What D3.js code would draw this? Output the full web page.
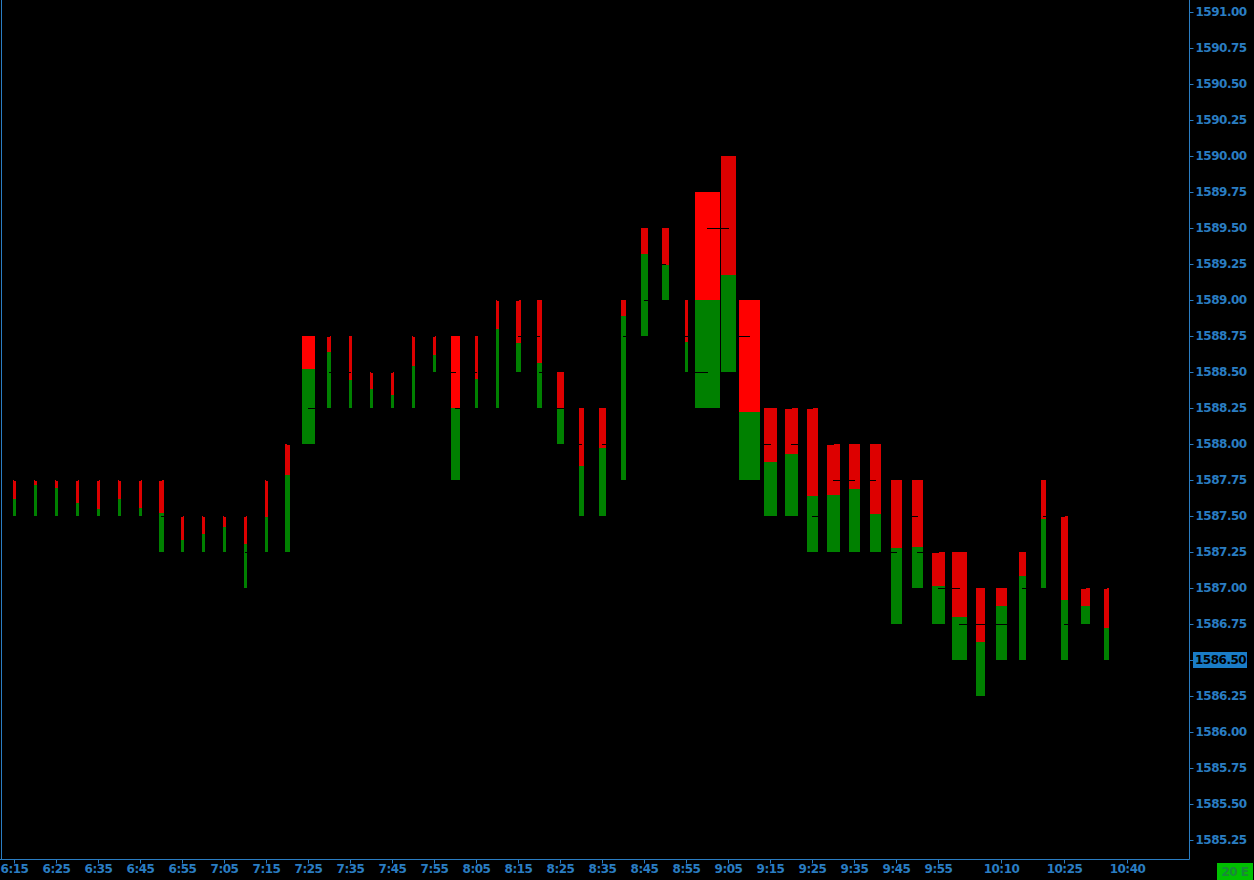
<!DOCTYPE html>
<html><head><meta charset="utf-8">
<script src="https://cdn.jsdelivr.net/npm/d3@7/dist/d3.min.js"></script>
<style>
html,body{margin:0;padding:0;background:#000;}
svg{display:block;}
</style></head>
<body>
<svg id="chart" width="1254" height="880"></svg>
<script>
// ---- data (5-minute bars) ----
const times = ["6:15","6:20","6:25","6:30","6:35","6:40","6:45","6:50","6:55","7:00","7:05","7:10","7:15","7:20","7:25","7:30","7:35","7:40","7:45","7:50","7:55","8:00","8:05","8:10","8:15","8:20","8:25","8:30","8:35","8:40","8:45","8:50","8:55","9:00","9:05","9:10","9:15","9:20","9:25","9:30","9:35","9:40","9:45","9:50","9:55","10:00","10:05","10:10","10:15","10:20","10:25","10:30","10:35"];
const highs = [1587.75,1587.75,1587.75,1587.75,1587.75,1587.75,1587.75,1587.75,1587.50,1587.50,1587.50,1587.50,1587.75,1588.00,1588.75,1588.75,1588.75,1588.50,1588.50,1588.75,1588.75,1588.75,1588.75,1589.00,1589.00,1589.00,1588.50,1588.25,1588.25,1589.00,1589.50,1589.50,1589.00,1589.75,1590.00,1589.00,1588.25,1588.25,1588.25,1588.00,1588.00,1588.00,1587.75,1587.75,1587.25,1587.25,1587.00,1587.00,1587.25,1587.75,1587.50,1587.00,1587.00];
const lows = [1587.50,1587.50,1587.50,1587.50,1587.50,1587.50,1587.50,1587.25,1587.25,1587.25,1587.25,1587.00,1587.25,1587.25,1588.00,1588.25,1588.25,1588.25,1588.25,1588.25,1588.50,1587.75,1588.25,1588.25,1588.50,1588.25,1588.00,1587.50,1587.50,1587.75,1588.75,1589.00,1588.50,1588.25,1588.50,1587.75,1587.50,1587.50,1587.25,1587.25,1587.25,1587.25,1586.75,1587.00,1586.75,1586.50,1586.25,1586.50,1586.50,1587.00,1586.50,1586.75,1586.50];
const opens = [1587.50,1587.50,1587.50,1587.75,1587.75,1587.50,1587.75,1587.75,1587.50,1587.25,1587.25,1587.50,1587.25,1587.25,1588.00,1588.75,1588.50,1588.25,1588.50,1588.25,1588.75,1588.50,1588.50,1588.25,1589.00,1588.75,1588.25,1588.00,1587.50,1587.75,1588.75,1589.25,1588.75,1588.50,1589.50,1588.75,1588.00,1588.25,1588.25,1588.00,1587.75,1587.75,1587.25,1587.50,1587.25,1587.00,1586.75,1586.75,1586.50,1587.00,1587.50,1587.00,1587.00];
const closes = [1587.75,1587.75,1587.75,1587.50,1587.50,1587.75,1587.50,1587.50,1587.25,1587.50,1587.50,1587.25,1587.75,1588.00,1588.25,1588.50,1588.25,1588.50,1588.25,1588.75,1588.50,1588.25,1588.25,1589.00,1588.75,1588.50,1588.25,1587.50,1588.00,1588.75,1589.00,1589.00,1588.75,1589.50,1588.50,1587.75,1587.50,1588.00,1587.50,1587.75,1587.25,1587.25,1586.75,1587.25,1587.00,1586.75,1586.75,1586.75,1587.00,1587.50,1586.75,1586.75,1586.50];
// share of the bar's range traded at the ask side (red, top) vs bid side (green, bottom)
const sellShare = [0.53,0.14,0.22,0.64,0.80,0.53,0.78,0.46,0.67,0.50,0.30,0.39,0.51,0.29,0.31,0.22,0.61,0.47,0.64,0.42,0.53,0.50,0.60,0.27,0.60,0.58,0.51,0.54,0.37,0.09,0.24,0.51,0.58,0.50,0.55,0.62,0.50,0.43,0.61,0.47,0.42,0.65,0.47,0.62,0.47,0.60,0.50,0.25,0.22,0.36,0.58,0.50,0.56];
const volumes = [330,330,330,330,330,330,330,530,330,330,330,330,330,500,1300,370,300,330,300,300,300,900,300,300,500,500,700,500,700,500,700,700,300,2500,1500,2100,1300,1300,1100,1300,1100,1100,1100,1100,1300,1500,900,1100,700,500,700,900,500];
const strongBars = ["7:25","8:00","9:00","9:10"];
const yTicks = [1585.25,1585.50,1585.75,1586.00,1586.25,1586.50,1586.75,1587.00,1587.25,1587.50,1587.75,1588.00,1588.25,1588.50,1588.75,1589.00,1589.25,1589.50,1589.75,1590.00,1590.25,1590.50,1590.75,1591.00];
const xTickLabels = ["6:15","6:25","6:35","6:45","6:55","7:05","7:15","7:25","7:35","7:45","7:55","8:05","8:15","8:25","8:35","8:45","8:55","9:05","9:15","9:25","9:35","9:45","9:55","10:10","10:25","10:40"];
const lastPrice = 1586.50;
const periodLabel = "20 E";

// ---- drawing ----
const W = 1254, H = 880;
const plotRight = 1189, plotBottom = 859;
const axisColor = "#2a7dc2";
const font = "'DejaVu Sans', Verdana, sans-serif";
const fontCss = `bold 12px ${font}`;

const parseT = d3.timeParse("%H:%M");
const data = times.map((t, i) => ({
  t, date: parseT(t), high: highs[i], low: lows[i], open: opens[i], close: closes[i],
  share: sellShare[i], vol: volumes[i], strong: strongBars.includes(t)
}));

const x = d3.scaleTime().domain([parseT("6:15"), parseT("10:40")]).range([14, 1127]);
const y = d3.scaleLinear().domain([1585.25, 1591.00]).range([840, 12]);
const wScale = d3.scaleLinear().domain([0, 2500]).range([0, 25]);

const svg = d3.select("#chart");
svg.append("rect").attr("width", W).attr("height", H).attr("fill", "#000");

const g = svg.append("g").attr("shape-rendering", "crispEdges");

const bars = g.selectAll("g.bar").data(data).enter().append("g").attr("class", "bar");
bars.each(function(d) {
  const el = d3.select(this);
  const cx = Math.round(x(d.date));
  const w = Math.max(3, Math.round(wScale(d.vol)));
  const x0 = cx - Math.floor(w / 2);
  const yTop = y(d.high), yBot = y(d.low);
  const ySplit = yTop + (yBot - yTop) * d.share;
  el.append("rect").attr("x", x0).attr("y", yTop).attr("width", w).attr("height", ySplit - yTop)
    .attr("fill", d.strong ? "#ff0000" : "#dd0000");
  el.append("rect").attr("x", x0).attr("y", ySplit).attr("width", w).attr("height", yBot - ySplit)
    .attr("fill", "#008000");
  // open (left) / close (right) ticks
  el.append("line").attr("x1", x0 - 1).attr("x2", cx + 0.5)
    .attr("y1", Math.round(y(d.open)) + 0.5).attr("y2", Math.round(y(d.open)) + 0.5)
    .attr("stroke", "#000").attr("stroke-width", 1);
  el.append("line").attr("x1", cx).attr("x2", x0 + w + 1)
    .attr("y1", Math.round(y(d.close)) + 0.5).attr("y2", Math.round(y(d.close)) + 0.5)
    .attr("stroke", "#000").attr("stroke-width", 1);
});

// frame lines
svg.append("line").attr("x1", 1.5).attr("x2", 1.5).attr("y1", 0).attr("y2", plotBottom)
  .attr("stroke", axisColor).attr("stroke-width", 1);

// right price axis
const yAxis = d3.axisRight(y).tickValues(yTicks).tickFormat(d3.format(".2f")).tickSizeInner(4).tickSizeOuter(0).tickPadding(2);
const ya = svg.append("g").attr("transform", `translate(${plotRight + 0.5},0)`).call(yAxis);
ya.select(".domain").remove();
ya.append("line").attr("x1", 0).attr("x2", 0).attr("y1", 0).attr("y2", plotBottom + 0.5).attr("stroke", axisColor);
ya.selectAll(".tick line").attr("stroke", axisColor);
ya.selectAll(".tick text").attr("fill", axisColor).style("font", fontCss).style("letter-spacing", "-0.5px");

// last price marker
const lp = svg.append("g");
lp.append("rect").attr("x", 1193).attr("y", y(lastPrice) - 8).attr("width", 54).attr("height", 16).attr("fill", "#1a7cc6");
lp.append("text").attr("x", 1195).attr("y", y(lastPrice)).attr("dy", "0.34em")
  .attr("fill", "#000").style("font", fontCss).style("letter-spacing", "-0.5px").text(d3.format(".2f")(lastPrice));

// bottom time axis
const xAxis = d3.axisBottom(x).tickValues(xTickLabels.map(parseT))
  .tickFormat((d, i) => xTickLabels[i]).tickSizeInner(4).tickSizeOuter(0).tickPadding(1);
const xa = svg.append("g").attr("transform", `translate(0,${plotBottom + 0.5})`).call(xAxis);
xa.select(".domain").remove();
xa.append("line").attr("x1", 0).attr("x2", plotRight + 0.5).attr("y1", 0).attr("y2", 0).attr("stroke", axisColor);
xa.selectAll(".tick line").attr("stroke", axisColor);
xa.selectAll(".tick text").attr("fill", axisColor).style("font", fontCss).style("letter-spacing", "-0.5px");

// period badge
svg.append("rect").attr("x", 1217).attr("y", 863).attr("width", 36).attr("height", 17).attr("fill", "#00c000");
svg.append("text").attr("x", 1235).attr("y", 872).attr("dy", "0.35em").attr("text-anchor", "middle")
  .attr("fill", "#1a8a3a").style("font", fontCss).style("letter-spacing", "-0.5px").text(periodLabel);
</script>
</body></html>
